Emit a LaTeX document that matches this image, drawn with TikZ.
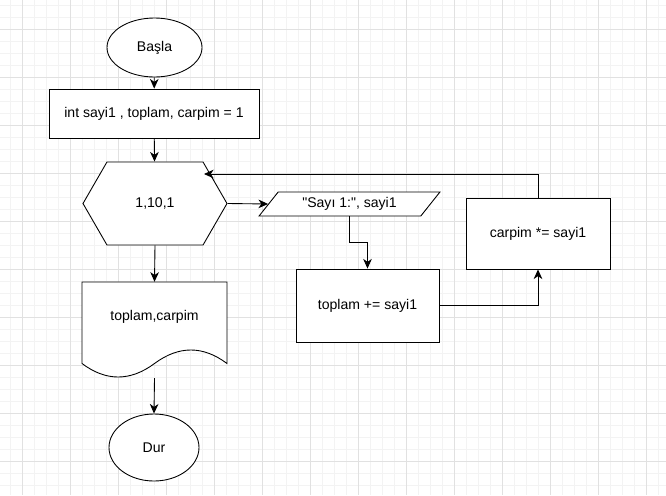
\documentclass[tikz,border=0pt]{standalone}
\usepackage{fontspec}
\setmainfont{Liberation Sans}[Ligatures=TeXOff]
\usetikzlibrary{arrows.meta,shapes.geometric,shapes.symbols}
\definecolor{FCMinor}{HTML}{F3F3F3}
\definecolor{FCMajor}{HTML}{E1E1E1}

\begin{document}
\begin{tikzpicture}[
    x=0.03cm,y=-0.03cm,
    every node/.style={font=\fontsize{12}{14}\selectfont},
    shapebox/.style={draw,line width=0.75pt,align=center,inner sep=0pt,fill=white},
    terminal/.style={shapebox,ellipse},
    process/.style={shapebox,rectangle},
    loopbox/.style={shapebox,signal,signal to=east and west,signal pointer angle=120},
    iobox/.style={shapebox,trapezium,trapezium left angle=46,trapezium right angle=134,trapezium stretches=true},
    shapeline/.style={draw,line width=0.75pt,fill=white},
    arrow/.style={-{Stealth[length=2.9mm,width=2.6mm,inset=0.9mm]},line width=0.75pt}
  ]
  \useasboundingbox (0,0) rectangle (666,495);
  % grid
  \foreach \gx in {10,22,...,658} \draw[FCMinor,line width=0.5pt] (\gx,0) -- (\gx,495);
  \foreach \gy in {5,17,...,493} \draw[FCMinor,line width=0.5pt] (0,\gy) -- (666,\gy);
  \foreach \gx in {22,70,...,646} \draw[FCMajor,line width=0.5pt] (\gx,0) -- (\gx,495);
  \foreach \gy in {29,77,...,461} \draw[FCMajor,line width=0.5pt] (0,\gy) -- (666,\gy);

  \node[terminal,minimum width=2.85cm,minimum height=1.77cm] (start) at (154.5,47.5) {Başla};
  \node[process,minimum width=6.3cm,minimum height=1.47cm] (init) at (154,113.5) {int sayi1 , toplam, carpim = 1};
  \node[loopbox,minimum width=4.32cm,minimum height=2.49cm] (loop) at (155,203.5) {1,10,1};
  \node[iobox,minimum width=5.43cm,minimum height=0.72cm] (read) at (349.5,204) {"Sayı 1:", sayi1};
  \node[process,minimum width=4.29cm,minimum height=2.19cm] (sum) at (367.5,305.5) {toplam += sayi1};
  \node[process,minimum width=4.32cm,minimum height=2.13cm] (prod) at (538,233.5) {carpim *= sayi1};

  % document shape
  \path[shapeline] (82,282) -- (227,282) -- (227,363.5)
    .. controls (203,345.5) and (178.8,345.5) .. (154.5,363.5)
    .. controls (130.2,381.5) and (106,381.5) .. (82,363.5) -- cycle;
  \node[minimum width=4.35cm,minimum height=2.1cm,inner sep=0pt] (out) at (154.5,317) {toplam,carpim};
  \node[terminal,minimum width=2.7cm,minimum height=2.01cm] (stop) at (154,447.5) {Dur};
  \coordinate (back) at (204,174);

  \draw[arrow] (start) -- (init);
  \draw[arrow] (init) -- (loop);
  \draw[arrow] (loop.east) -- (read.west);
  \draw[arrow] (read.south) -- ++(0,26) -| (sum.north);
  \draw[arrow] (sum.east) -| (prod.south);
  \draw[arrow] (prod.north) |- (back);
  \draw[arrow] (loop.south) -- (out.north);
  \draw[arrow] ([yshift=-0.78cm]out.south) -- (stop.north);
\end{tikzpicture}
\end{document}
